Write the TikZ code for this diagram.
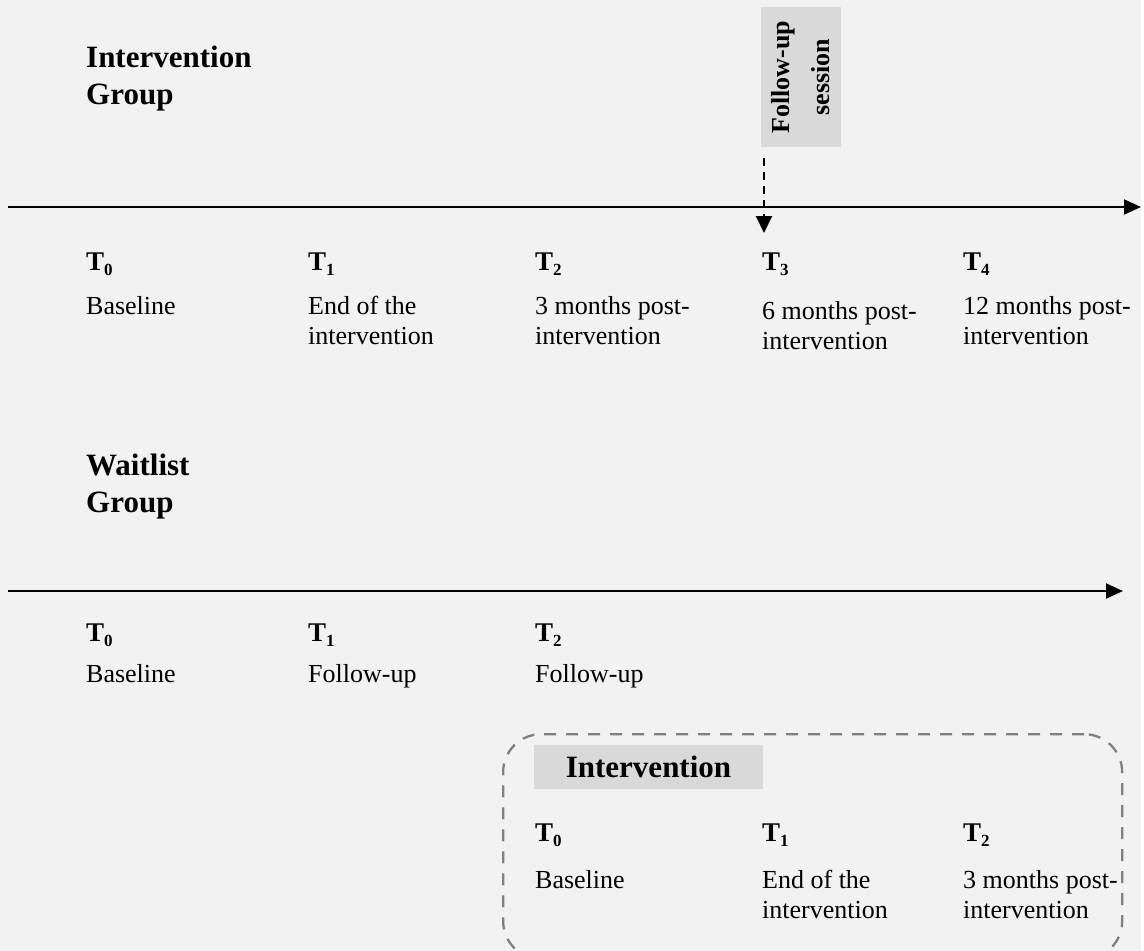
\documentclass[tikz,border=0pt]{standalone}
\usepackage{fontspec}
\setmainfont{Liberation Serif}
\usetikzlibrary{arrows.meta}
\definecolor{bggray}{HTML}{F2F2F2}
\definecolor{boxgray}{HTML}{D9D9D9}
\definecolor{dashgray}{HTML}{808080}
\newcommand{\Tlab}[1]{\textbf{T}\raisebox{-0.2em}{\fontsize{17}{17}\selectfont\textbf{#1}}}
\begin{document}
\begin{tikzpicture}[x=1pt,y=-1pt,
  heading/.style={anchor=base west, inner sep=0pt, align=left, font=\fontsize{31}{37}\selectfont\bfseries},
  tlab/.style={anchor=base west, inner sep=0pt, font=\fontsize{27}{30}\selectfont},
  desc/.style={anchor=base west, inner sep=0pt, align=left, font=\fontsize{26}{30}\selectfont},
  axisline/.style={line width=2pt, -{Triangle[length=17pt,width=15pt]}},
  graybox/.style={fill=boxgray, inner sep=0pt}
]
\useasboundingbox (0,0) rectangle (1144,951);
\fill[white] (0,0) rectangle (1144,951);
\fill[bggray] (0,0) rectangle (1141,951);

% Intervention group
\node[heading] (ig) at (86,104) {Intervention\\Group};
\node[graybox, rotate=90, minimum width=140pt, minimum height=80pt, align=center,
      font=\fontsize{26}{40}\selectfont\bfseries] (fu) at (801,77) {Follow-up\\session};
\coordinate (fuS) at (764,158);
\coordinate (fuE) at (764,233);
\draw[line width=2pt, dash pattern=on 8pt off 6pt, -{Triangle[length=17pt,width=16pt]}] (fuS) -- (fuE);

\coordinate (a1s) at (8,207);
\coordinate (a1e) at (1141,207);
\draw[axisline] (a1s) -- (a1e);

\node[tlab] (it0) at (86,270) {\Tlab{0}};
\node[tlab] (it1) at (308,270) {\Tlab{1}};
\node[tlab] (it2) at (535,270) {\Tlab{2}};
\node[tlab] (it3) at (762,270) {\Tlab{3}};
\node[tlab] (it4) at (963,270) {\Tlab{4}};

\node[desc] (id0) at (86,314) {Baseline};
\node[desc] (id1) at (308,344) {End of the\\intervention};
\node[desc] (id2) at (535,344) {3 months post-\\intervention};
\node[desc] (id3) at (762,349) {6 months post-\\intervention};
\node[desc] (id4) at (963,344) {12 months post-\\intervention};

% Waitlist group
\node[heading] (wg) at (86,512) {Waitlist\\Group};

\coordinate (a2s) at (8,591);
\coordinate (a2e) at (1123,591);
\draw[axisline] (a2s) -- (a2e);

\node[tlab] (wt0) at (86,641) {\Tlab{0}};
\node[tlab] (wt1) at (308,641) {\Tlab{1}};
\node[tlab] (wt2) at (535,641) {\Tlab{2}};
\node[desc] (wd0) at (86,682) {Baseline};
\node[desc] (wd1) at (308,682) {Follow-up};
\node[desc] (wd2) at (535,682) {Follow-up};

% Waitlist intervention box
\node[draw=dashgray, line width=2.3pt, dash pattern=on 12pt off 10pt, rounded corners=38pt,
      minimum width=619pt, minimum height=225pt, inner sep=0pt, anchor=north west] (wbox) at (502,733) {};
\node[graybox, minimum width=229pt, minimum height=44pt,
      font=\fontsize{31}{37}\selectfont\bfseries] (ib) at (648.5,767) {Intervention};

\node[tlab] (bt0) at (535,841) {\Tlab{0}};
\node[tlab] (bt1) at (762,841) {\Tlab{1}};
\node[tlab] (bt2) at (963,841) {\Tlab{2}};
\node[desc] (bd0) at (535,888) {Baseline};
\node[desc] (bd1) at (762,918) {End of the\\intervention};
\node[desc] (bd2) at (963,918) {3 months post-\\intervention};
\end{tikzpicture}
\end{document}
